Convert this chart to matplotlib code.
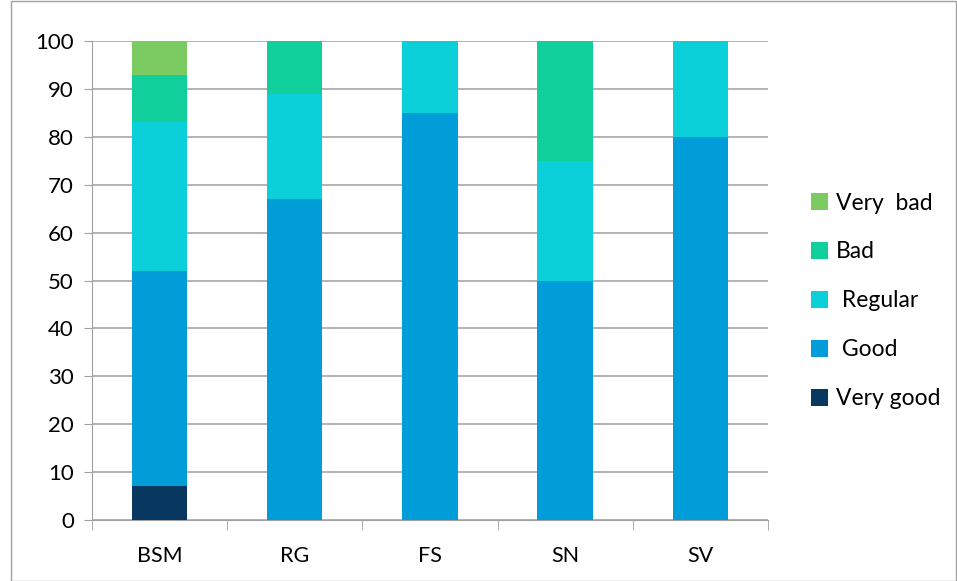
import matplotlib.pyplot as plt
import numpy as np
from matplotlib.patches import Rectangle

plt.rcParams["font.family"] = ["Lato", "DejaVu Sans"]

categories = ["BSM", "RG", "FS", "SN", "SV"]
very_good = [7, 0, 0, 0, 0]
good = [45, 67, 85, 50, 80]
regular = [31, 22, 15, 25, 20]
bad = [10, 11, 0, 25, 0]
very_bad = [7, 0, 0, 0, 0]

series = [
    ("Very good", very_good, "#08375f"),
    (" Good", good, "#009dd9"),
    (" Regular", regular, "#0bd0d9"),
    ("Bad", bad, "#10cf9b"),
    ("Very  bad", very_bad, "#7cca62"),
]

fig = plt.figure(figsize=(9.57, 5.81), dpi=100)
ax = fig.add_axes([0.0961, 0.105, 0.7064, 0.8244])

x = np.arange(len(categories))
bottom = np.zeros(len(categories))
handles = []
for label, vals, color in series:
    vals = np.array(vals, dtype=float)
    h = ax.bar(x, vals, 0.41, bottom=bottom, color=color, label=label, zorder=3)
    handles.append(h)
    bottom += vals

ax.set_xlim(-0.5, len(categories) - 0.5)
ax.set_ylim(0, 100)
ax.set_yticks(np.arange(0, 101, 10))
ax.set_xticks(x)
ax.set_xticklabels(categories)
ax.set_xticks(np.arange(-0.5, len(categories)), minor=True)
ax.tick_params(axis="x", which="major", length=0, labelsize=15.5, pad=19)
ax.tick_params(axis="x", which="minor", length=7, color="#a0a0a0")
ax.tick_params(axis="y", length=6, color="#a0a0a0", labelsize=16, pad=7)
ax.grid(axis="y", color="#a6a6a6", linewidth=1.2, zorder=0)
for side in ["top", "right"]:
    ax.spines[side].set_visible(False)
for side in ["left", "bottom"]:
    ax.spines[side].set_color("#a0a0a0")

leg = fig.legend(
    handles[::-1],
    [s[0] for s in series][::-1],
    loc="center left",
    bbox_to_anchor=(0.826, 0.482),
    frameon=False,
    fontsize=16.5,
    handlelength=0.75,
    handleheight=0.75,
    handletextpad=0.35,
    labelspacing=1.22,
)

fig.add_artist(Rectangle((0.011, 0.0), 0.988, 0.998, transform=fig.transFigure,
                         fill=False, edgecolor="#a0a0a0", linewidth=1))

fig.savefig("out.png", dpi=100)
